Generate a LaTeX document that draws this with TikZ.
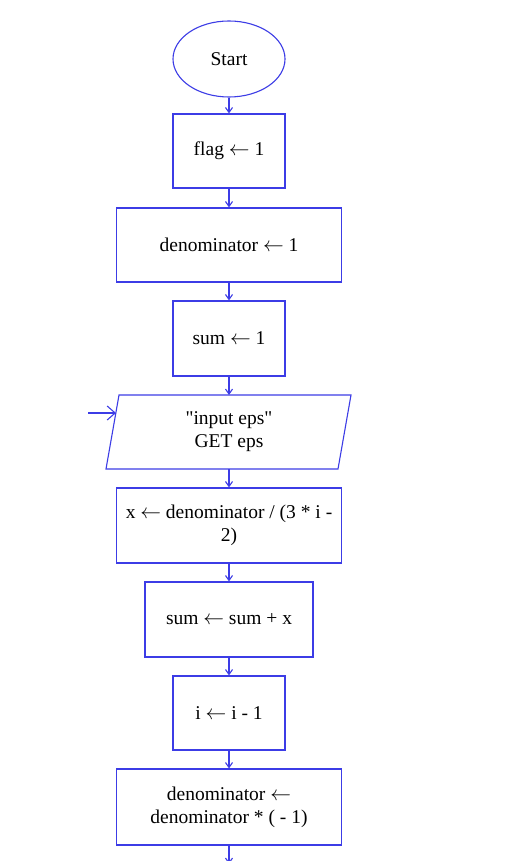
\documentclass[tikz,border=0pt]{standalone}
\usepackage{fontspec}
\setmainfont{Liberation Serif}[Ligatures=TeXOff]
\usetikzlibrary{arrows.meta,shapes.geometric}
\definecolor{fc}{RGB}{60,60,230}
\newcommand{\asg}{\ensuremath{\leftarrow}}
\begin{document}
\begin{tikzpicture}[x=1pt,y=-1pt,
  every node/.style={font=\fontsize{19.5}{23}\selectfont, align=center, inner sep=0pt, line width=1.1pt},
  box/.style={draw=fc, rectangle, minimum height=74pt},
  oval/.style={draw=fc, ellipse, minimum width=112pt, minimum height=76pt},
  conn/.style={draw=fc, line width=1.1pt, -{Straight Barb[length=5pt,width=7pt]}}]
\useasboundingbox[fill=white] (0,0) rectangle (515,861);
\node[oval] (start) at (229,59) {Start};
\node[box, minimum width=112pt] (flag) at (229,151) {flag \asg{} 1};
\node[box, minimum width=225pt] (den1) at (229,245) {denominator \asg{} 1};
\node[box, minimum width=112pt, minimum height=75pt] (sum1) at (229,338.5) {sum \asg{} 1};
\node[rectangle, minimum width=232pt, minimum height=74pt] (inp) at (229,432) {"input eps"\\GET eps};
\draw[fc, line width=1.1pt] (119,395) -- (351,395) -- (338,469) -- (106,469) -- cycle;
\node[box, minimum width=225pt, minimum height=75pt] (xb) at (229,525.5) {x \asg{} denominator / (3 * i -\\2)};
\node[box, minimum width=168pt, minimum height=75pt] (sumx) at (229,619.5) {sum \asg{} sum + x};
\node[box, minimum width=112pt] (ib) at (229,713) {i \asg{} i - 1};
\node[box, minimum width=225pt, minimum height=76pt] (den2) at (229,807) {denominator \asg\\denominator * ( - 1)};
\coordinate (loopin) at (88,413);
\coordinate (loopend) at (116,413);
\coordinate (bottom) at (229,864);
\draw[conn] (start) -- (flag);
\draw[conn] (flag) -- (den1);
\draw[conn] (den1) -- (sum1);
\draw[conn] (sum1) -- (229,395);
\draw[conn] (229,469) -- (xb);
\draw[conn] (xb) -- (sumx);
\draw[conn] (sumx) -- (ib);
\draw[conn] (ib) -- (den2);
\draw[conn] (den2) -- (bottom);
\draw[draw=fc, line width=1.1pt, -{Straight Barb[length=8pt,width=14pt]}] (loopin) -- (loopend);
\end{tikzpicture}
\end{document}
